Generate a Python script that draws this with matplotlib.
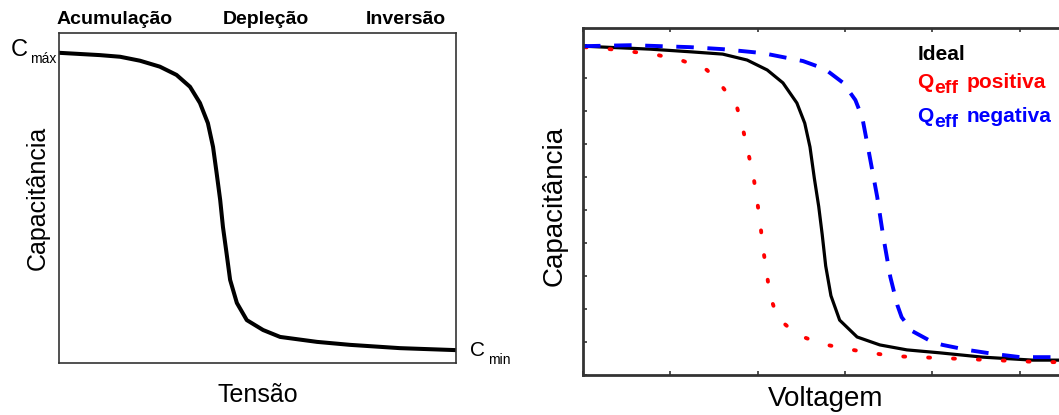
import matplotlib.pyplot as plt

plt.rcParams['font.family'] = ['Liberation Sans', 'DejaVu Sans']

# left panel: generic C-V curve (normalised axes)
cv_x = [0.0, 0.103, 0.154, 0.204, 0.254, 0.296, 0.330, 0.355, 0.375, 0.388,
        0.397, 0.406, 0.413, 0.422, 0.431, 0.448, 0.473, 0.514, 0.557, 0.650,
        0.733, 0.859, 1.0]
cv_y = [0.94, 0.933, 0.928, 0.916, 0.898, 0.873, 0.837, 0.788, 0.727, 0.655,
        0.576, 0.494, 0.412, 0.333, 0.252, 0.182, 0.130, 0.100, 0.079, 0.064,
        0.055, 0.045, 0.039]
regions = ['Acumulação', 'Depleção', 'Inversão']
region_px = [115, 266, 406]

# right panel: ideal curve and shifts from effective charge
ideal_x = [0, 0.77, 1.23, 1.60, 1.88, 2.11, 2.29, 2.45, 2.54, 2.60, 2.65, 2.70,
           2.74, 2.78, 2.84, 2.94, 3.14, 3.40, 3.71, 4.09, 4.58, 5.15, 5.6]
ideal_y = [9.95, 9.86, 9.78, 9.71, 9.53, 9.23, 8.84, 8.23, 7.62, 6.90, 5.95, 5.10,
           4.25, 3.30, 2.40, 1.66, 1.15, 0.91, 0.76, 0.67, 0.54, 0.45, 0.45]
pos_x = [0.02, 0.31, 0.60, 0.86, 1.15, 1.42, 1.60, 1.76, 1.83, 1.89, 1.95, 1.99,
         2.03, 2.06, 2.10, 2.14, 2.23, 2.46, 2.74, 3.02, 3.29, 3.57, 4.12, 4.70,
         5.26, 5.6]
pos_y = [9.92, 9.86, 9.77, 9.68, 9.50, 9.23, 8.71, 8.14, 7.47, 6.75, 6.05, 5.36,
         4.60, 3.87, 3.18, 2.42, 1.72, 1.21, 0.94, 0.79, 0.67, 0.57, 0.51, 0.45,
         0.39, 0.39]
neg_x = [0, 0.56, 1.23, 1.60, 2.06, 2.52, 2.77, 2.98, 3.12, 3.20, 3.27, 3.37,
         3.44, 3.52, 3.60, 3.65, 3.77, 4.00, 4.12, 4.40, 4.70, 5.01, 5.35, 5.6]
neg_y = [9.95, 9.98, 9.92, 9.86, 9.74, 9.50, 9.26, 8.84, 8.32, 7.78, 6.81, 5.39,
         4.18, 2.97, 2.12, 1.75, 1.33, 1.00, 0.91, 0.76, 0.64, 0.54, 0.54, 0.54]

W, H = 1059, 415
fig = plt.figure(figsize=(W / 100, H / 100), dpi=100)


def px(x, y):
    # pixel position (from top-left) to figure fraction
    return x / W, 1 - y / H


def label(x, y, s, **kw):
    fx, fy = px(x, y)
    fig.text(fx, fy, s, **kw)


ax1 = fig.add_axes([59 / W, (H - 363) / H, 397 / W, 330 / H])
ax1.plot(cv_x, cv_y, color='black', lw=2.9, solid_joinstyle='round')
ax1.set_xlim(0, 1)
ax1.set_ylim(0, 1)
ax1.set_xticks([])
ax1.set_yticks([])
for s in ax1.spines.values():
    s.set_linewidth(1.2)
    s.set_color('#333333')

for name, xp in zip(regions, region_px):
    label(xp, 24, name, ha='center', va='baseline', fontsize=14, fontweight='bold')
label(258, 402, 'Tensão', ha='center', va='baseline', fontsize=18)
label(38, 198, 'Capacitância', ha='center', va='center', rotation=90, fontsize=18)
label(28, 56, 'C', ha='right', va='baseline', fontsize=17)
label(30, 63, 'máx', ha='left', va='baseline', fontsize=10)
label(485, 356, 'C', ha='right', va='baseline', fontsize=15)
label(488, 364, 'min', ha='left', va='baseline', fontsize=10)

x_unit = 87.3
ax2 = fig.add_axes([583 / W, (H - 375) / H, 5.6 * x_unit / W, 347 / H])
ax2.plot(ideal_x, ideal_y, color='black', lw=2.3, solid_joinstyle='round')
ax2.plot(pos_x, pos_y, color='#ff0000', lw=2.8, dashes=(0.5, 5.9),
         dash_capstyle='round')
ax2.plot(neg_x, neg_y, color='#0000ff', lw=2.8, dashes=(4.5, 3.5))
ax2.set_xlim(0, 5.6)
ax2.set_ylim(0, 10.5)
ax2.set_xticks(range(6))
ax2.set_yticks(range(11))
ax2.tick_params(direction='in', length=3, width=1.2, top=True, right=False,
                labelbottom=False, labelleft=False, color='#333333')
for s in ax2.spines.values():
    s.set_linewidth(2)
    s.set_color('#333333')

label(826, 406, 'Voltagem', ha='center', va='baseline', fontsize=20)
label(555, 206, 'Capacitância', ha='center', va='center', rotation=90, fontsize=20)

# legend drawn as coloured text
label(918, 60, 'Ideal', va='baseline', fontsize=15, fontweight='bold', color='black')
for yb, word, col in [(88, 'positiva', '#ff0000'), (122, 'negativa', '#0000ff')]:
    label(917, yb, 'Q', va='baseline', fontsize=15, fontweight='bold', color=col)
    label(934, yb + 5, 'eff', va='baseline', fontsize=14, fontweight='bold', color=col)
    label(967, yb, word, va='baseline', fontsize=15, fontweight='bold', color=col)

fig.savefig('out.png', dpi=100)
